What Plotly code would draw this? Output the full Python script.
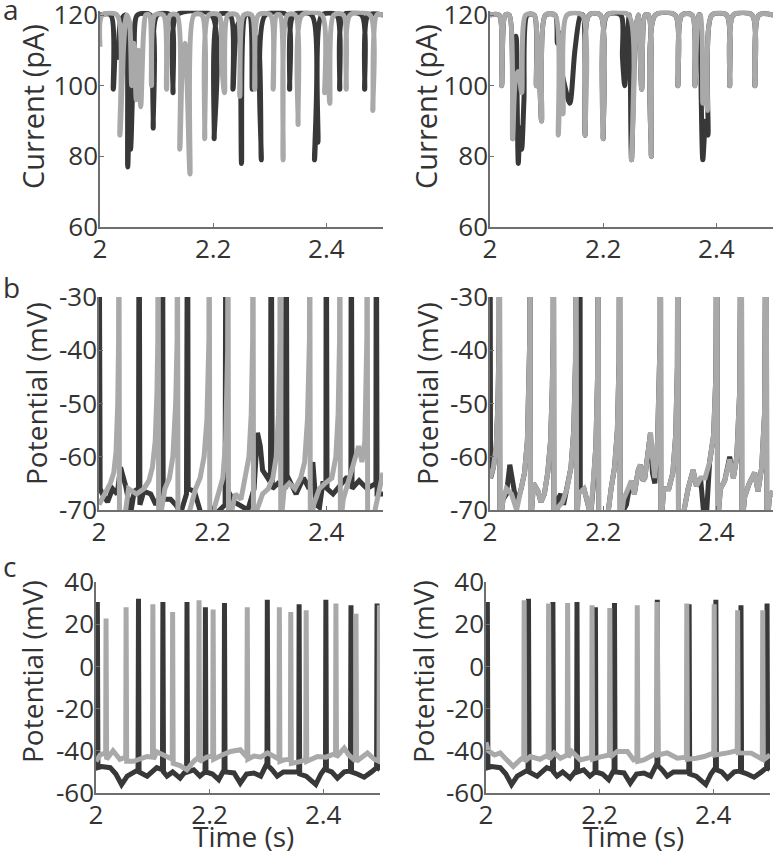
import plotly.graph_objects as go

# ---------------- DATA (time in s, value) ----------------
# Panel a: current (pA)
a_left_black = [(2.000,120),(2.019,120),(2.0235,99),(2.028,112),(2.032,108),(2.036,118),(2.044,120),(2.049,77),(2.0515,88),(2.054,82),(2.060,110),(2.066,120),(2.089,120),(2.094,88),(2.101,120),(2.124,120),(2.129,98),(2.136,120),(2.197,120),(2.2017,85),(2.209,120),(2.230,120),(2.235,99),(2.240,115),(2.2455,118),(2.250,78),(2.257,120),(2.264,120),(2.269,99),(2.274,114),(2.280,112),(2.285,79),(2.292,120),(2.330,120),(2.335,99),(2.342,120),(2.374,120),(2.379,79),(2.382,88),(2.385,84),(2.392,120),(2.418,120),(2.4235,99),(2.430,120),(2.462,120),(2.4676,99),(2.474,120),(2.500,120)]
a_left_gray = [(2.000,111),(2.004,120),(2.030,120),(2.035,86),(2.042,112),(2.047,120),(2.052,118),(2.056,100),(2.060,112),(2.064,96),(2.068,110),(2.072,94),(2.077,115),(2.081,120),(2.087,120),(2.091,100),(2.097,120),(2.112,120),(2.1176,99),(2.124,120),(2.136,120),(2.141,82),(2.146,108),(2.150,112),(2.154,100),(2.159,75),(2.166,120),(2.180,120),(2.185,85),(2.192,120),(2.210,120),(2.215,106),(2.220,98),(2.226,120),(2.242,120),(2.247,97),(2.254,120),(2.268,120),(2.2735,99),(2.280,120),(2.301,120),(2.306,99),(2.312,120),(2.318,120),(2.3235,79),(2.331,120),(2.345,120),(2.350,89),(2.357,120),(2.392,120),(2.397,98),(2.401,110),(2.406,95),(2.413,120),(2.430,120),(2.435,99),(2.442,120),(2.477,120),(2.482,93),(2.489,120),(2.500,120)]
a_right_black = [(2.000,120),(2.016,120),(2.0206,100),(2.027,120),(2.034,120),(2.040,85),(2.044,113),(2.046,114),(2.048,95),(2.050,78),(2.053,88),(2.056,82),(2.060,96),(2.066,120),(2.078,120),(2.082,100),(2.086,107),(2.091,90),(2.098,120),(2.115,120),(2.119,112),(2.122,115),(2.125,106),(2.132,100),(2.141,95),(2.150,110),(2.160,120),(2.164,120),(2.168,86),(2.175,120),(2.195,120),(2.200,85),(2.207,120),(2.231,120),(2.234,108),(2.238,100),(2.242,112),(2.246,120),(2.250,79),(2.257,115),(2.262,120),(2.268,99),(2.274,120),(2.280,120),(2.285,80),(2.292,120),(2.327,120),(2.332,100),(2.339,120),(2.357,120),(2.362,100),(2.369,120),(2.371,120),(2.373,98),(2.376,79),(2.381,90),(2.385,86),(2.392,120),(2.418,120),(2.4235,100),(2.430,120),(2.463,120),(2.468,100),(2.475,120),(2.500,120)]
a_right_gray = [(2.000,120),(2.016,120),(2.0206,100),(2.027,120),(2.034,120),(2.040,85),(2.045,102),(2.050,104),(2.056,98),(2.063,120),(2.078,120),(2.082,100),(2.086,107),(2.091,90),(2.098,120),(2.115,120),(2.1206,86),(2.124,98),(2.129,92),(2.136,120),(2.163,120),(2.168,86),(2.175,120),(2.195,120),(2.200,85),(2.207,120),(2.245,120),(2.250,79),(2.257,115),(2.262,120),(2.268,99),(2.274,120),(2.280,120),(2.285,80),(2.292,120),(2.327,120),(2.332,100),(2.339,120),(2.357,120),(2.362,100),(2.369,120),(2.372,120),(2.376,95),(2.380,108),(2.384,93),(2.392,120),(2.418,120),(2.4235,100),(2.430,120),(2.463,120),(2.468,100),(2.475,120),(2.500,120)]

# Panel b: potential (mV), spikes clipped at -30
b_left_black = [(2.000,0),(2.002,-66),(2.006,-67),(2.015,-68.5),(2.024,-66),(2.032,-67),(2.038,-62),(2.043,-64),(2.047,-65.5),(2.056,-70.5),(2.062,-66.5),(2.0695,-66),(2.0706,0),(2.072,-69),(2.079,-66.5),(2.091,-67),(2.100,-69),(2.110,-67),(2.1118,0),(2.113,-68),(2.126,-68),(2.135,-69),(2.144,-70.5),(2.154,-67),(2.1559,0),(2.157,-66),(2.168,-66.5),(2.179,-70.5),(2.203,-71),(2.222,-69),(2.2235,0),(2.225,-66),(2.238,-68.5),(2.262,-70),(2.273,-66),(2.279,-55.5),(2.284,-58),(2.288,-62.5),(2.297,-64),(2.302,-63),(2.303,0),(2.305,-66),(2.315,-65),(2.3285,-66),(2.3294,0),(2.331,-63.5),(2.347,-67),(2.360,-64),(2.370,-66),(2.3765,-61),(2.382,-69),(2.3882,-69.5),(2.394,-65),(2.3995,-65),(2.400,0),(2.4015,-66),(2.412,-67),(2.4235,-65.5),(2.4353,-64),(2.4435,-64),(2.4441,0),(2.4455,-66),(2.458,-64.5),(2.4718,-66),(2.4875,-65),(2.4882,0),(2.4895,-67),(2.500,-67)]
b_left_gray = [(2.000,-69),(2.010,-67),(2.020,-65),(2.026,-63),(2.030,-59),(2.033,-50),(2.0345,-38),(2.035,0),(2.036,-73),(2.042,-71),(2.047,-70),(2.052,-66),(2.066,-67),(2.079,-66),(2.088,-64.5),(2.094,-62),(2.099,-57),(2.102,-48),(2.1035,-38),(2.104,0),(2.105,-73),(2.110,-70),(2.116,-66),(2.124,-64),(2.130,-60),(2.135,-50),(2.1375,-38),(2.138,0),(2.139,-73),(2.150,-72),(2.160,-70),(2.170,-66),(2.178,-64),(2.185,-60),(2.190,-53),(2.1935,-38),(2.194,0),(2.195,-73),(2.202,-70),(2.210,-67),(2.218,-64),(2.223,-57),(2.2265,-40),(2.227,0),(2.228,-73),(2.234,-70),(2.240,-67),(2.250,-68),(2.258,-64),(2.264,-60),(2.268,-52),(2.2705,-38),(2.271,0),(2.272,-73),(2.278,-70),(2.288,-67),(2.298,-66),(2.306,-64),(2.312,-60),(2.316,-52),(2.3185,-38),(2.319,0),(2.320,-73),(2.326,-66),(2.335,-65),(2.345,-66),(2.355,-64),(2.362,-61),(2.367,-53),(2.3705,-38),(2.371,0),(2.372,-73),(2.378,-69),(2.388,-66),(2.398,-65),(2.410,-64),(2.417,-60),(2.421,-52),(2.4235,-38),(2.424,0),(2.425,-73),(2.430,-68),(2.440,-64),(2.450,-60),(2.457,-58),(2.463,-61),(2.468,-57),(2.4715,-38),(2.472,0),(2.473,-73),(2.484,-71),(2.491,-67),(2.500,-63)]
b_right_black = [(2.000,0),(2.001,-64),(2.006,-62),(2.011,-58),(2.014,-50),(2.016,-38),(2.0165,0),(2.0175,-73),(2.023,-68),(2.029,-67),(2.035,-61.5),(2.040,-65),(2.047,-69),(2.055,-66),(2.061,-63),(2.066,-57),(2.069,-47),(2.0702,-38),(2.0706,0),(2.0716,-73),(2.077,-65),(2.085,-66.5),(2.090,-68.5),(2.096,-67),(2.102,-63),(2.107,-57),(2.110,-47),(2.1115,-38),(2.112,0),(2.113,-73),(2.120,-68),(2.125,-67),(2.130,-69),(2.136,-66),(2.143,-62),(2.148,-55),(2.151,-42),(2.152,0),(2.153,-73),(2.156,-67),(2.1585,-66),(2.159,0),(2.1595,-66),(2.166,-66),(2.178,-71),(2.182,-66),(2.187,-58),(2.190,-45),(2.191,0),(2.192,-73),(2.202,-72),(2.208,-71),(2.214,-66),(2.220,-62),(2.225,-55),(2.228,-42),(2.229,0),(2.230,-73),(2.236,-70),(2.241,-69),(2.246,-66),(2.250,-64.5),(2.255,-67),(2.262,-62.5),(2.2659,-61.5),(2.270,-64.5),(2.2735,-64),(2.280,-59),(2.2835,-55.5),(2.287,-63),(2.2912,-65),(2.296,-57),(2.299,-46),(2.3005,-38),(2.301,0),(2.302,-73),(2.307,-66),(2.316,-66),(2.323,-63),(2.328,-56),(2.331,-43),(2.332,0),(2.333,-73),(2.338,-71),(2.3412,-71),(2.350,-66),(2.3588,-62.5),(2.3647,-65.5),(2.372,-64),(2.377,-70),(2.383,-70),(2.388,-61),(2.395,-56),(2.399,-45),(2.401,0),(2.402,-73),(2.407,-66),(2.4147,-64.5),(2.4235,-60),(2.430,-64),(2.436,-60),(2.441,-48),(2.444,0),(2.445,-73),(2.450,-67.5),(2.458,-65),(2.4676,-63),(2.4735,-66.5),(2.480,-62),(2.485,-52),(2.488,0),(2.489,-73),(2.494,-67.5),(2.500,-66.5)]
b_right_gray = [(2.000,-64),(2.006,-62),(2.011,-58),(2.014,-50),(2.016,-38),(2.0165,0),(2.0175,-73),(2.023,-68),(2.029,-66),(2.038,-67),(2.047,-70),(2.055,-66),(2.061,-63),(2.066,-57),(2.069,-47),(2.0702,-38),(2.0706,0),(2.0716,-73),(2.077,-65),(2.085,-66.5),(2.090,-68.5),(2.096,-67),(2.102,-63),(2.107,-57),(2.110,-47),(2.1115,-38),(2.112,0),(2.113,-73),(2.120,-69.5),(2.128,-68.5),(2.136,-66),(2.143,-62),(2.148,-55),(2.151,-42),(2.152,0),(2.153,-73),(2.156,-67),(2.166,-66),(2.178,-71),(2.182,-66),(2.187,-58),(2.190,-45),(2.191,0),(2.192,-73),(2.202,-72),(2.208,-71),(2.214,-66),(2.220,-62),(2.225,-55),(2.228,-42),(2.229,0),(2.230,-73),(2.236,-68),(2.244,-66),(2.250,-64.5),(2.255,-67),(2.262,-62.5),(2.2659,-61.5),(2.270,-64.5),(2.2735,-64),(2.280,-59),(2.2835,-55.5),(2.287,-60),(2.2912,-64),(2.296,-57),(2.299,-46),(2.3005,-38),(2.301,0),(2.302,-73),(2.307,-66),(2.316,-66),(2.323,-63),(2.328,-56),(2.331,-43),(2.332,0),(2.333,-73),(2.338,-71),(2.3412,-71),(2.350,-66),(2.3588,-62.5),(2.3647,-65.5),(2.372,-64),(2.380,-64),(2.388,-61),(2.395,-56),(2.399,-45),(2.401,0),(2.402,-73),(2.407,-66),(2.4147,-64.5),(2.4235,-60.5),(2.430,-64),(2.436,-60),(2.441,-48),(2.444,0),(2.445,-73),(2.450,-67.5),(2.458,-65),(2.4676,-63),(2.4735,-66.5),(2.480,-62),(2.485,-52),(2.488,0),(2.489,-73),(2.494,-67.5),(2.500,-66.5)]

# Panel c: potential (mV), full spikes
c_black = [(2.000,-47),(2.0016,-47),(2.0024,30.5),(2.0034,-48),(2.010,-47.5),(2.025,-48),(2.035,-51),(2.045,-56),(2.055,-52),(2.066,-50.5),(2.074,-49),(2.0748,32),(2.0758,-50),(2.090,-52),(2.100,-50),(2.107,-48),(2.117,-49),(2.1178,30.5),(2.1188,-50),(2.125,-52),(2.135,-50),(2.148,-53),(2.1595,-49),(2.1602,30.5),(2.1612,-50),(2.172,-49),(2.183,-52),(2.192,-50),(2.1926,28),(2.1936,-50),(2.205,-51),(2.216,-53.7),(2.2255,-49),(2.2262,30),(2.2272,-50),(2.243,-50.5),(2.254,-55.3),(2.265,-51),(2.278,-50.5),(2.290,-52),(2.301,-46),(2.3016,31.6),(2.3026,-47),(2.310,-49),(2.319,-52),(2.330,-50),(2.343,-50),(2.357,-50),(2.3576,29.4),(2.3586,-51),(2.370,-52),(2.380,-54),(2.387,-56),(2.396,-51),(2.404,-48),(2.4047,31.6),(2.4057,-49),(2.415,-50),(2.425,-53),(2.437,-50),(2.448,-49.5),(2.4489,29),(2.4499,-50),(2.460,-51),(2.472,-52.5),(2.485,-50),(2.494,-48),(2.4948,29.8),(2.4958,-48),(2.500,-49)]
c_left_gray = [(2.000,-45),(2.007,-42),(2.017,-41),(2.0177,22.7),(2.0187,-44),(2.030,-40),(2.042,-44),(2.0523,-43),(2.053,28),(2.054,-45),(2.066,-45),(2.080,-44),(2.090,-42.7),(2.0994,-43),(2.1001,29.4),(2.1011,-44),(2.107,-40.5),(2.120,-42),(2.1342,-44),(2.1349,25.8),(2.1359,-46),(2.148,-47),(2.160,-49),(2.172,-45),(2.1807,-43),(2.1814,31.3),(2.1824,-45),(2.195,-43),(2.2055,-42.5),(2.2062,27),(2.2072,-44),(2.222,-42),(2.237,-40.3),(2.254,-39.5),(2.2656,-43),(2.2663,28),(2.2673,-44),(2.278,-42.5),(2.290,-43),(2.302,-41),(2.315,-43),(2.3221,-44),(2.3228,28),(2.3238,-45),(2.331,-44.3),(2.3422,-44),(2.3429,25.8),(2.3439,-46),(2.361,-45),(2.3693,-44),(2.370,26.6),(2.371,-45),(2.390,-42.7),(2.405,-43),(2.419,-41.5),(2.4217,-42),(2.4224,29.8),(2.4234,-43),(2.437,-38.7),(2.445,-42),(2.455,-44.3),(2.457,-44),(2.4577,25),(2.4587,-45),(2.478,-41),(2.490,-44),(2.4983,-45),(2.499,29),(2.500,-44)]
c_right_gray = [(2.000,-36),(2.004,-40),(2.015,-42),(2.025,-41),(2.0365,-44.3),(2.048,-47.4),(2.060,-44.3),(2.0665,-43),(2.0672,31.3),(2.0682,-45),(2.078,-42.7),(2.095,-44),(2.1095,-42),(2.1102,29.8),(2.1112,-44),(2.120,-41),(2.131,-43.5),(2.143,-42),(2.1437,30),(2.1447,-43),(2.151,-40.3),(2.166,-44.3),(2.186,-43),(2.1867,29),(2.1877,-44),(2.200,-43),(2.2173,-42),(2.218,27.7),(2.219,-43),(2.231,-40.3),(2.249,-40.3),(2.260,-44.3),(2.2656,-44),(2.2663,29),(2.2673,-45),(2.278,-44.3),(2.301,-41),(2.3016,30.5),(2.3026,-42),(2.319,-41),(2.337,-43.5),(2.3528,-43),(2.3535,29.8),(2.3545,-44),(2.370,-43.5),(2.384,-42.7),(2.401,-41),(2.4018,29.4),(2.4028,-42),(2.425,-41),(2.4423,-40),(2.443,26.6),(2.444,-41),(2.467,-41.1),(2.4865,-44),(2.4872,26.6),(2.4882,-44.3),(2.500,-42)]

x_ticks = [2, 2.2, 2.4]
x_tick_labels = ["2", "2.2", "2.4"]
a_ticks = [60, 80, 100, 120]
b_ticks = [-70, -60, -50, -40, -30]
c_ticks = [-60, -40, -20, 0, 20, 40]
panel_letters = ["a", "b", "c"]
y_titles = ["Current (pA)", "Potential (mV)", "Potential (mV)"]
x_title = "Time (s)"

# ---------------- STYLE / LAYOUT ----------------
W, H = 774, 853
DARK = "#383838"
LIGHT = "#a9a9a9"
AXC = "#6f6f6f"
TXT = "#333333"
FONT = "Open Sans"
LW = 5

def px_x(p):
    return p / W

def px_y(p):
    return 1 - p / H

fig = go.Figure()

a_top = 15 - 1.2 * 212 / 60
panels = [
    (a_left_black, a_left_gray, 100, 383, a_top, 227, [60, 121.2], a_ticks, "spline"),
    (a_right_black, a_right_gray, 490, 773, a_top, 227, [60, 121.2], a_ticks, "spline"),
    (b_left_black, b_left_gray, 99, 383, 297, 510, [-70, -30], b_ticks, "linear"),
    (b_right_black, b_right_gray, 490, 773, 297, 510, [-70, -30], b_ticks, "linear"),
    (c_black, c_left_gray, 96, 380, 582, 793, [-60, 40], c_ticks, "linear"),
    (c_black, c_right_gray, 486, 770, 582, 793, [-60, 40], c_ticks, "linear"),
]

layout_axes = {}
for i, (blk, gry, xl, xr, yt, yb, yr, yt_vals, shape) in enumerate(panels):
    n = "" if i == 0 else str(i + 1)
    xa, ya = "x" + n, "y" + n
    for data, col in ((blk, DARK), (gry, LIGHT)):
        line = dict(color=col, width=LW, shape=shape)
        if shape == "spline":
            line["smoothing"] = 0.8
        fig.add_trace(go.Scatter(
            x=[p[0] for p in data], y=[p[1] for p in data],
            mode="lines", line=line,
            xaxis=xa, yaxis=ya, showlegend=False, hoverinfo="skip"))
    common = dict(showline=True, linecolor=AXC, linewidth=1.5, ticks="inside",
                  ticklen=4, tickcolor=AXC, tickwidth=1, showgrid=False,
                  zeroline=False, automargin=False, ticklabeloverflow="allow",
                  tickfont=dict(family=FONT, size=26, color=TXT))
    layout_axes["xaxis" + n] = dict(common, domain=[px_x(xl), px_x(xr)], range=[2, 2.5],
                                    anchor=ya, tickvals=x_ticks, ticktext=x_tick_labels,
                                    ticklabelstandoff=-2)
    layout_axes["yaxis" + n] = dict(common, domain=[px_y(yb), px_y(yt)], range=yr, anchor=xa,
                                    tickvals=yt_vals, ticktext=[str(v) for v in yt_vals],
                                    ticklabelstandoff=-5)

ann = []
title_pos = [(32, 107, 29), (425, 107, 29), (36, 394, 28), (427, 394, 28), (32, 672, 28), (423, 672, 28)]
for i, (px, py, fs) in enumerate(title_pos):
    ann.append(dict(x=px_x(px), y=px_y(py), xref="paper", yref="paper",
                    text=y_titles[i // 2], textangle=-90, showarrow=False,
                    xanchor="center", yanchor="middle",
                    font=dict(family=FONT, size=fs, color=TXT)))
for px in (243, 633):
    ann.append(dict(x=px_x(px), y=px_y(836), xref="paper", yref="paper",
                    text=x_title, showarrow=False, xanchor="center", yanchor="middle",
                    font=dict(family=FONT, size=28, color=TXT)))
for lab, py in zip(panel_letters, (9, 287, 566)):
    ann.append(dict(x=px_x(1), y=px_y(py), xref="paper", yref="paper",
                    text=lab, showarrow=False, xanchor="left", yanchor="middle",
                    font=dict(family=FONT, size=28, color=TXT)))

fig.update_layout(width=W, height=H, margin=dict(l=0, r=0, t=0, b=0, pad=0),
                  paper_bgcolor="white", plot_bgcolor="white",
                  annotations=ann, **layout_axes)
# remove the default 8px page margin so the figure sits at the window origin
fig.write_html("out.html", config={"displayModeBar": False},
               post_script="document.body.style.margin='0px';")
